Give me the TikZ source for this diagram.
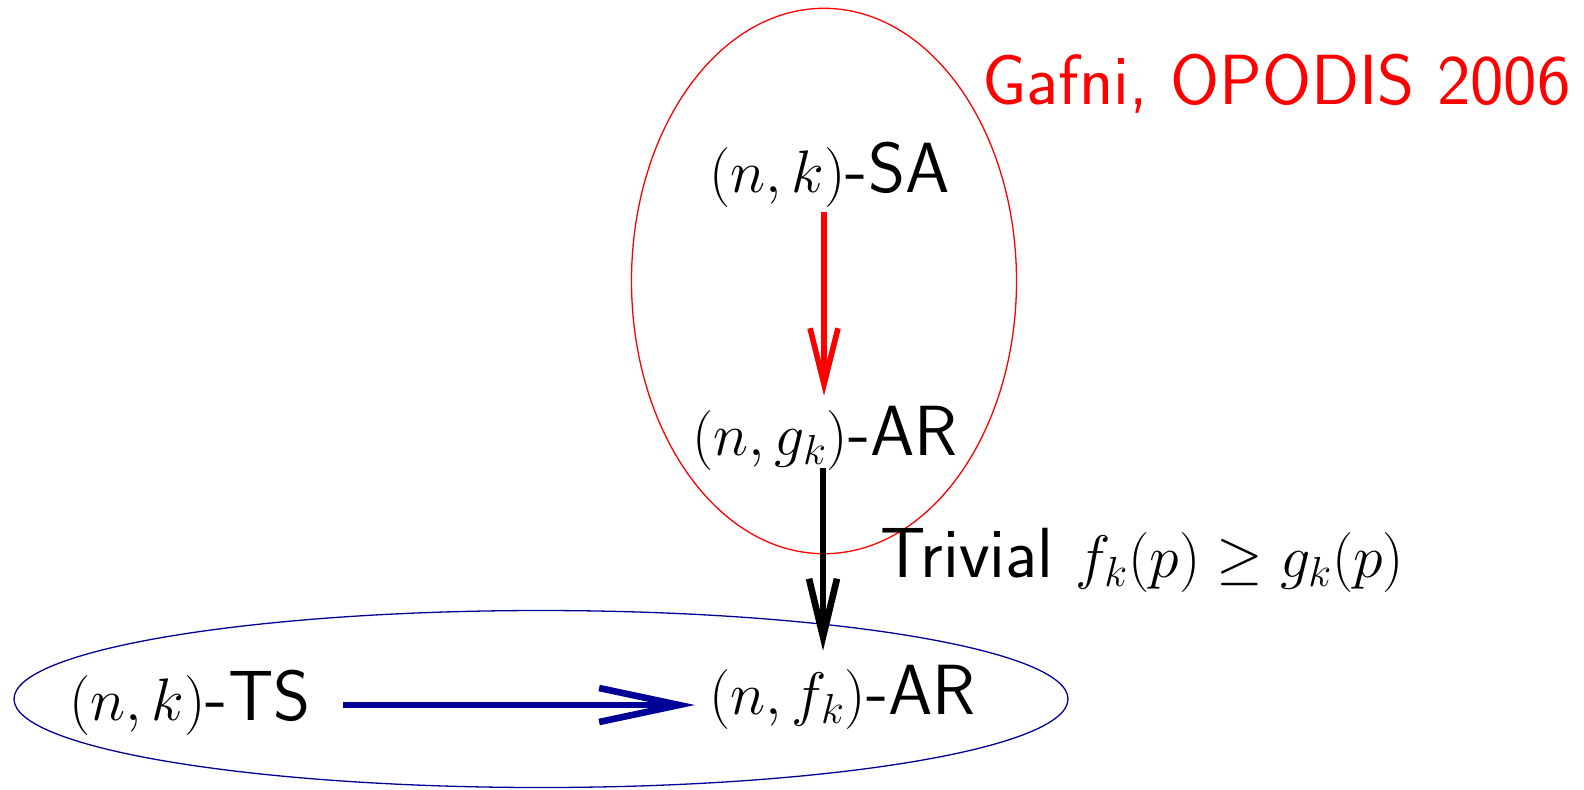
\RequirePackage{fix-cm}
\documentclass[tikz,border=0pt]{standalone}
\usetikzlibrary{arrows.meta}
\definecolor{navy}{RGB}{0,0,150}
\newcommand\mth[1]{{\fontsize{30}{36}\selectfont$#1$}}
\begin{document}
\begin{tikzpicture}[x=0.5pt,y=-0.5pt,
  lbl/.style={inner sep=0pt,anchor=base west,font=\fontsize{35.5}{42}\selectfont\sffamily},
  redtip/.style={-{Straight Barb[length=28pt,width=14pt]}},
  blacktip/.style={-{Straight Barb[length=29pt,width=14pt]}},
  bluetip/.style={-{Straight Barb[length=40pt,width=17pt]}}]
\useasboundingbox (0,0) rectangle (1584,789);
\draw[red,line width=0.65pt] (824,281) ellipse [x radius=192.5*0.5pt, y radius=272.7*0.5pt];
\draw[navy,line width=0.65pt] (541,699) ellipse [x radius=527*0.5pt, y radius=88.5*0.5pt];
\node[lbl] (sa) at (709,192) {\mth{(n,k)}-SA};
\node[lbl] (gar) at (692,455) {\mth{(n,g_k)}-AR};
\node[lbl] (far) at (709,714) {\mth{(n,f_k)}-AR};
\node[lbl] (ts) at (69,720) {\mth{(n,k)}-TS};
\node[lbl] (triv) at (880,577) {Trivial \mth{f_k(p)\geq g_k(p)}};
\node[lbl,red] (gafni) at (982,104) {Gafni, OPODIS 2006};
\draw[red,line width=2.8pt,redtip,shorten <=2.4pt,shorten >=4.8pt] (sa.south -| 824,0) -- (gar.north -| 824,0);
\draw[black,line width=3.3pt,blacktip,shorten <=-1.1pt,shorten >=6.8pt] (gar.south -| 823,0) -- (far.north -| 823,0);
\draw[navy,line width=3.3pt,bluetip,shorten <=16pt,shorten >=7pt] (ts.east |- 0,705) -- (far.west |- 0,705);
\end{tikzpicture}
\end{document}
